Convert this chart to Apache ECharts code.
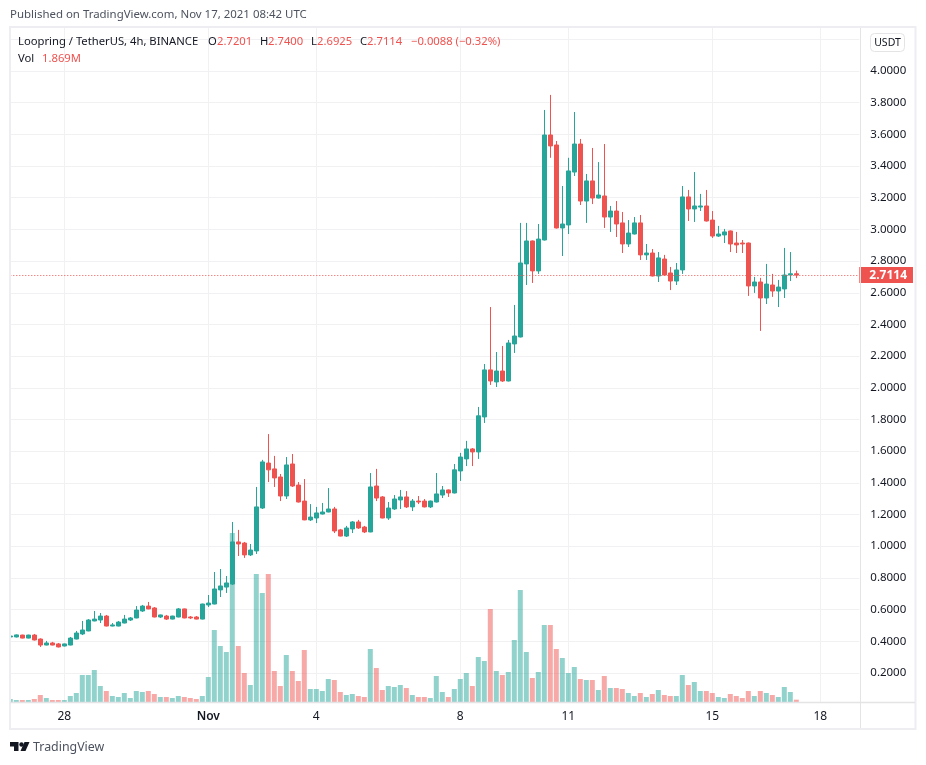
<!DOCTYPE html>
<html><head><meta charset="utf-8">
<style>html,body{margin:0;padding:0;background:#fff}#c{width:926px;height:765px}</style>
<script src="https://cdn.jsdelivr.net/npm/echarts@6/dist/echarts.min.js"></script></head>
<body><div id="c"></div>
<script>
const opens=[.427,.427,.439,.420,.439,.414,.376,.389,.383,.370,.376,.414,.446,.465,.528,.534,.559,.496,.496,.515,.534,.547,.591,.622,.610,.553,.559,.540,.553,.604,.553,.553,.540,.629,.635,.724,.742,.761,1.027,1.020,.945,.970,1.241,1.525,1.488,1.437,1.317,1.519,1.386,1.285,1.166,1.178,1.203,1.216,1.235,1.103,1.064,1.109,1.153,1.121,1.090,1.380,1.311,1.178,1.235,1.292,1.311,1.248,1.285,1.285,1.248,1.279,1.323,1.355,1.336,1.475,1.551,1.614,1.595,1.816,2.113,2.037,2.106,2.043,2.277,2.321,2.782,2.927,2.738,2.933,3.596,3.533,3.009,3.028,3.362,3.539,3.179,3.306,3.198,3.211,3.078,3.116,3.041,2.908,2.971,3.041,2.839,2.851,2.706,2.813,2.725,2.674,2.744,3.205,3.129,3.141,3.148,3.059,2.958,2.965,2.990,2.914,2.914,2.914,2.643,2.668,2.567,2.649,2.611,2.624,2.712,2.7201];
const closes=[.433,.440,.420,.439,.408,.376,.389,.376,.364,.383,.420,.452,.471,.534,.540,.559,.496,.503,.521,.540,.547,.597,.622,.604,.553,.566,.540,.559,.604,.547,.547,.540,.635,.641,.730,.749,.768,1.027,1.014,.945,.976,1.248,1.532,1.482,1.431,1.317,1.513,1.380,1.279,1.166,1.184,1.210,1.216,1.235,1.096,1.064,1.115,1.153,1.115,1.090,1.374,1.304,1.178,1.241,1.298,1.311,1.248,1.285,1.279,1.248,1.285,1.330,1.355,1.336,1.482,1.563,1.614,1.595,1.823,2.113,2.043,2.106,2.043,2.283,2.327,2.788,2.927,2.738,2.939,3.596,3.527,3.009,3.034,3.369,3.539,3.179,3.306,3.198,3.217,3.078,3.116,3.034,2.908,2.977,3.041,2.839,2.851,2.706,2.820,2.712,2.674,2.744,3.205,3.129,3.148,3.148,3.053,2.958,2.971,2.984,2.908,2.902,2.908,2.643,2.668,2.567,2.655,2.611,2.636,2.712,2.720,2.7114];
const lows=[.420,.424,.418,.418,.405,.364,.374,.374,.361,.367,.374,.412,.439,.463,.526,.515,.494,.494,.494,.513,.528,.545,.585,.602,.551,.547,.534,.538,.551,.545,.540,.538,.538,.616,.633,.679,.705,.755,.938,.926,.938,.951,1.235,1.405,1.374,1.285,1.298,1.374,1.276,1.164,1.159,1.146,1.200,1.214,1.083,1.062,1.058,1.083,1.109,1.083,1.088,1.285,1.176,1.166,1.229,1.235,1.241,1.222,1.266,1.245,1.241,1.276,1.304,1.311,1.333,1.412,1.506,1.506,1.551,1.778,2.018,2.005,2.037,2.040,2.220,2.318,2.649,2.662,2.719,2.930,3.452,3.006,2.832,2.971,3.337,3.154,3.041,3.160,3.195,3.009,2.984,2.952,2.851,2.889,2.968,2.807,2.807,2.703,2.668,2.709,2.617,2.649,2.719,3.053,3.047,3.116,3.050,2.946,2.952,2.914,2.857,2.851,2.851,2.580,2.599,2.359,2.529,2.574,2.510,2.567,2.674,2.6925];
const highs=[.436,.443,.441,.441,.446,.418,.402,.396,.389,.385,.427,.465,.528,.540,.591,.578,.566,.515,.528,.566,.553,.622,.629,.648,.616,.568,.566,.561,.610,.606,.559,.559,.637,.692,.837,.856,.812,1.153,1.103,1.027,1.014,1.374,1.545,1.708,1.570,1.456,1.563,1.582,1.405,1.424,1.266,1.248,1.273,1.367,1.248,1.109,1.128,1.159,1.166,1.128,1.462,1.488,1.317,1.279,1.323,1.355,1.348,1.298,1.317,1.298,1.288,1.462,1.380,1.358,1.519,1.589,1.665,1.620,1.879,2.150,2.510,2.226,2.264,2.302,2.523,3.041,3.041,2.930,3.034,3.754,3.849,3.558,3.274,3.452,3.741,3.571,3.350,3.514,3.425,3.539,3.148,3.179,3.110,3.059,3.078,3.091,2.908,2.876,2.857,2.839,2.763,2.788,3.274,3.249,3.362,3.224,3.249,3.116,3.022,3.003,2.993,2.984,2.933,2.917,2.700,2.694,2.782,2.719,2.681,2.883,2.857,2.74];
const volumes=[2.4,1.6,1.6,1.6,2.4,5.6,3.2,1.6,1.6,1.6,4.8,7.2,21.6,21.6,25.6,12.8,8.8,4.8,4,7.2,3.2,8.8,8,8.8,6.4,4,4,3.2,4.8,4,3.2,2.4,4.8,20,57.6,44.8,40,135.2,44.8,23.2,13.6,102.4,87.2,102.4,24.8,12.8,37.6,24.8,16.8,41.6,10.4,10.4,8.8,18.4,17.6,8,5.6,6.4,4.8,4,42.4,27.2,9.6,12.8,12,13.6,11.2,5.6,4,4,3.2,20.8,8,4,10.4,18.4,23.2,12.8,36,32.8,74.4,24.8,21.6,24,49.6,89.6,40,19.2,24,61.6,61.6,42.4,35.2,23.2,28,18.4,17.6,17.6,9.6,20.8,11.2,11.2,10.4,7.2,4.8,7.2,4,6.4,9.6,5.6,4.8,4.8,21.6,13.6,16,8.8,8.8,7.2,4,3.2,6.4,4.8,3.2,8.8,4.8,8.8,7.2,5.6,4,12,8,1.869];
const tickLabels=['28','Nov','4','8','11','15','18'];
const tickIndexes=[9,33,51,75,93,117,135];
const priceTicks={min:0,max:4.2,step:0.2};
const lastPrice=2.7114;
const publishedText='Published on TradingView.com, Nov 17, 2021 08:42 UTC';
const UP='#26a69a',DOWN='#ef5350',FONT='"Noto Sans",sans-serif';
const bandCount=142;
const categories=Array.from({length:bandCount},(_,i)=>{const k=tickIndexes.indexOf(i);return k>=0?tickLabels[k]:''});
const isTick=i=>tickIndexes.includes(i);
const candleData=opens.map((o,i)=>[o,closes[i],lows[i],highs[i]]);
const volData=volumes.map((v,i)=>({value:v,itemStyle:{color:closes[i]>=opens[i]?'rgba(38,166,154,.5)':'rgba(239,83,80,.5)'}}));
const gL=7.3,gW=852;
const hdr=[['Loopring / TetherUS, 4h, BINANCE',18,42,'#131722'],['O',208,42,'#131722'],['2.7201',217,42,DOWN],['H',260,42,'#131722'],['2.7400',268,42,DOWN],['L',311,42,'#131722'],['2.6925',317,42,DOWN],['C',360,42,'#131722'],['2.7114',367,42,DOWN],['\u22120.0088 (\u22120.32%)',411,42,DOWN],['Vol',18,59,'#131722'],['1.869M',42,59,DOWN]];
const frame='#eeeef2',sep='#e4e4e6',gridC='#f1f1f3';
const graphics=[
 {type:'rect',z:100,shape:{x:0,y:0,width:9.5,height:765},style:{fill:'#fff'}},
 {type:'rect',z:101,shape:{x:10,y:27,width:905.5,height:702},style:{fill:'none',stroke:frame,lineWidth:2}},
 {type:'line',z:101,shape:{x1:860.5,y1:28,x2:860.5,y2:728},style:{stroke:sep,lineWidth:1}},
 {type:'line',z:101,shape:{x1:10,y1:702.5,x2:915,y2:702.5},style:{stroke:sep,lineWidth:1.5}},
 {type:'rect',z:101,shape:{x:870.5,y:33.5,width:34,height:18,r:4},style:{fill:'#fff',stroke:sep,lineWidth:1}},
 {type:'text',z:102,x:887.5,y:43,style:{text:'USDT',font:'10.5px '+FONT,fill:'#131722',textAlign:'center',textVerticalAlign:'middle'}},
 {type:'text',z:102,x:10,y:15,style:{text:publishedText,font:'11.45px '+FONT,fill:'#4c525e',textVerticalAlign:'middle'}},
 ...hdr.map(h=>({type:'text',z:102,x:h[1],y:h[2],style:{text:h[0],font:'11.25px '+FONT,fill:h[3],textVerticalAlign:'middle'}})),
 {type:'text',z:102,x:33,y:747,style:{text:'TradingView',font:'12.4px '+FONT,fill:'#4c525e',textVerticalAlign:'middle'}},
 {type:'polygon',z:102,shape:{points:[[10,742],[18.5,742],[18.5,751],[14,751],[14,746.5],[10,746.5]]},style:{fill:'#131722'}},
 {type:'circle',z:102,shape:{cx:21.5,cy:744.5,r:2.2},style:{fill:'#131722'}},
 {type:'polygon',z:102,shape:{points:[[24.5,742],[29.5,742],[25.5,751],[20.5,751]]},style:{fill:'#131722'}}
];
const chart=echarts.init(document.getElementById('c'),null,{renderer:'canvas'});
chart.setOption({
 animation:false,backgroundColor:'#fff',
 textStyle:{fontFamily:FONT},
 grid:[{left:gL,width:gW,top:39.32,height:665.28,containLabel:false},{left:gL,width:gW,top:28,height:674,containLabel:false}],
 xAxis:[
  {type:'category',gridIndex:0,data:categories,boundaryGap:true,axisLine:{show:false},axisTick:{show:false},axisLabel:{show:false},splitLine:{show:false}},
  {type:'category',gridIndex:1,data:categories,boundaryGap:true,axisLine:{show:false},axisTick:{show:false},
   axisLabel:{interval:(i)=>isTick(i),margin:9,fontSize:12,color:'#131722',fontFamily:FONT,
     formatter:v=>v==='Nov'?'{m|Nov}':v,rich:{m:{fontSize:12,fontWeight:600,color:'#131722',fontFamily:FONT}}},
   splitLine:{show:true,interval:(i)=>isTick(i),alignWithLabel:true,lineStyle:{color:gridC,width:1}}}
 ],
 yAxis:[
  {type:'value',gridIndex:0,position:'right',min:priceTicks.min,max:priceTicks.max,interval:priceTicks.step,
   axisLine:{show:false},axisTick:{show:false},
   axisLabel:{margin:11,align:'left',verticalAlign:'middle',lineHeight:16,fontSize:11.5,color:'#131722',fontFamily:FONT,showMinLabel:false,showMaxLabel:false,padding:[3,0,0,0],formatter:v=>v.toFixed(4)},
   splitLine:{show:true,showMinLine:false,lineStyle:{color:gridC,width:1}}},
  {type:'value',gridIndex:1,min:0,max:539.2,show:false,splitLine:{show:false}}
 ],
 series:[
  {name:'Vol',type:'bar',xAxisIndex:1,yAxisIndex:1,data:volData,barWidth:5,z:1,large:false},
  {name:'Price',type:'candlestick',xAxisIndex:0,yAxisIndex:0,data:candleData,barWidth:4,z:2,
   itemStyle:{color:UP,color0:DOWN,borderColor:UP,borderColor0:DOWN,borderWidth:1},
   markLine:{silent:true,symbol:'none',z:5,precision:4,
     lineStyle:{color:DOWN,type:[1,2],width:1,opacity:1},
     label:{show:true,position:'end',distance:0,formatter:()=>lastPrice.toFixed(4),color:'#fff',fontWeight:700,fontSize:12,fontFamily:FONT,backgroundColor:DOWN,padding:[2,6,2,10]},
     data:[{yAxis:lastPrice}]}}
 ],
 graphic:{elements:graphics}
});
</script></body></html>
